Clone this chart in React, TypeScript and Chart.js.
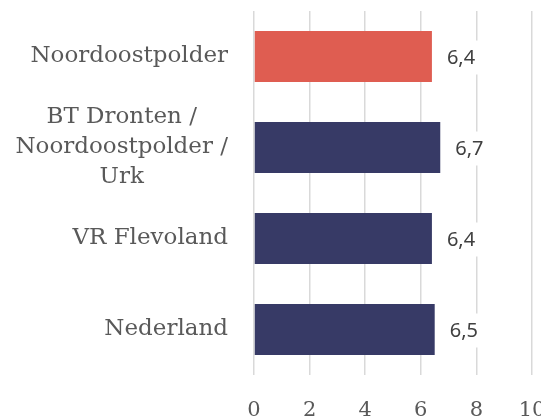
import React, { useEffect, useRef } from "react";
import { Chart, registerables } from "chart.js";

Chart.register(...registerables);

const categories: string[][] = [
  ["Noordoostpolder"],
  ["BT Dronten /", "Noordoostpolder /", "Urk"],
  ["VR Flevoland"],
  ["Nederland"],
];
const values: number[] = [6.4, 6.7, 6.4, 6.5];
const barColors: string[] = ["#DF5D51", "#373A66", "#373A66", "#373A66"];
const xMin = 0;
const xMax = 10;
const xStep = 2;

const W = 541;
const H = 420;
const Y_FONT = "23px 'DejaVu Serif'";
const Y_LINE_H = 30;
const Y_GAP = 26;
const LABEL_FONT = "20px 'Noto Sans'";

const yLabelPlugin = {
  id: "yLabelsCustom",
  afterDraw(chart: any) {
    const ctx = chart.ctx as CanvasRenderingContext2D;
    const scale = chart.scales.y;
    ctx.save();
    ctx.font = Y_FONT;
    ctx.fillStyle = "#595959";
    ctx.textAlign = "center";
    ctx.textBaseline = "middle";
    categories.forEach((lines, i) => {
      const yc = scale.getPixelForTick(i);
      const blockW = Math.max(...lines.map((l) => ctx.measureText(l).width));
      const cx = scale.right - Y_GAP - blockW / 2;
      lines.forEach((l, j) => {
        ctx.fillText(l, cx, yc + (j - (lines.length - 1) / 2) * Y_LINE_H);
      });
    });
    ctx.restore();
  },
};

const valueLabelPlugin = {
  id: "valueLabelsCustom",
  afterDatasetsDraw(chart: any) {
    const ctx = chart.ctx as CanvasRenderingContext2D;
    const meta = chart.getDatasetMeta(0);
    ctx.save();
    ctx.font = LABEL_FONT;
    meta.data.forEach((el: any, i: number) => {
      const text = values[i].toFixed(1).replace(".", ",");
      const tw = ctx.measureText(text).width;
      const tx = el.x + 15;
      ctx.fillStyle = "#ffffff";
      ctx.fillRect(el.x + 8, el.y - 16, tw + 16, 34);
      ctx.fillStyle = "#404040";
      ctx.textAlign = "left";
      ctx.textBaseline = "middle";
      ctx.fillText(text, tx, el.y + 2);
    });
    ctx.restore();
  },
};

export default function App() {
  const ref = useRef<HTMLCanvasElement | null>(null);
  useEffect(() => {
    if (!ref.current) return;
    const chart = new Chart(ref.current, {
      type: "bar",
      data: {
        labels: categories as any,
        datasets: [
          {
            data: values,
            backgroundColor: barColors,
            borderWidth: 0,
            categoryPercentage: 1,
            barPercentage: 0.56,
          },
        ],
      },
      options: {
        indexAxis: "y",
        animation: false,
        responsive: false,
        devicePixelRatio: 1,
        layout: { padding: { top: 11, right: 9, left: 0, bottom: 0 } },
        plugins: {
          legend: { display: false },
          tooltip: { enabled: false },
          title: { display: false },
        },
        scales: {
          x: {
            type: "linear",
            min: xMin,
            max: xMax,
            ticks: {
              stepSize: xStep,
              color: "#595959",
              font: { family: "'DejaVu Serif'", size: 21 },
              padding: 23,
              maxRotation: 0,
            },
            grid: { color: "#d9d9d9", lineWidth: 1.5, drawTicks: false },
            border: { display: false },
            afterFit(scale: any) {
              scale.paddingLeft = 0;
              scale.paddingRight = 0;
              scale.height = 45;
            },
          },
          y: {
            type: "category",
            ticks: { display: false },
            grid: { display: false, drawTicks: false },
            border: { display: false },
            afterFit(scale: any) {
              scale.width = 254;
            },
          },
        },
      },
      plugins: [valueLabelPlugin, yLabelPlugin],
    });
    return () => chart.destroy();
  }, []);
  return (
    <div style={{ position: "fixed", left: 0, top: 0, width: W, height: H, overflow: "hidden", background: "#fff" }}>
      <canvas ref={ref} width={W} height={H} style={{ width: W, height: H, display: "block" }} />
    </div>
  );
}
